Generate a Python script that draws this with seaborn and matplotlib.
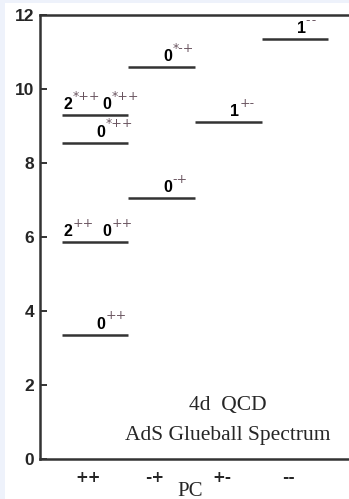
"""
AdS glueball spectrum for 4d QCD, level diagram by PC channel.
"""

import numpy as np
import matplotlib.pyplot as plt
import seaborn as sns
from matplotlib.patches import Rectangle

# PC channels along the x axis
pc_labels = ["++", "-+", "+-", "--"]

# one horizontal line per mass level
level_pc = ["++", "++", "++", "++", "-+", "-+", "+-", "--"]
level_mass = [3.36, 5.86, 8.55, 9.30, 7.05, 10.60, 9.10, 11.35]

# states written above the lines (spin, superscript)
state_pc = ["++", "++", "++", "++", "++", "++", "-+", "-+", "+-", "--"]
state_mass = [3.36, 5.86, 5.86, 8.55, 9.30, 9.30, 7.05, 10.60, 9.10, 11.35]
state_spin = ["0", "2", "0", "0", "2", "0", "0", "0", "1", "1"]
state_sup = ["++", "++", "++", "*++", "*++", "*++", "-+", "*-+", "+-", "--"]

yticks = [0, 2, 4, 6, 8, 10, 12]

sns.set_style("ticks")
plt.rcParams["font.family"] = ["Liberation Sans", "DejaVu Sans"]

fig = plt.figure(figsize=(3.49, 4.99), dpi=100, facecolor="#eef2fb")
fig.patches.append(Rectangle((5 / 349, 0), 1, 1 - 3 / 499, transform=fig.transFigure,
                             facecolor="white", edgecolor="none", zorder=-1))
ax = fig.add_axes([40 / 349, 1 - 459 / 499, 1 - 40 / 349, (459 - 15) / 499])
ax.set_facecolor("white")

ink = "#333333"
pc_x = {pc: i for i, pc in enumerate(pc_labels)}

xs = np.array([pc_x[p] for p in level_pc])
ax.hlines(level_mass, xs - 0.5, xs + 0.5, color=ink, lw=1.8)

# place labels: two states on one line go left/right, single state centred-ish
for pc, m, j, sup in zip(state_pc, state_mass, state_spin, state_sup):
    same = [k for k in range(len(state_mass)) if state_pc[k] == pc and state_mass[k] == m]
    i = pc_x[pc]
    if len(same) == 2:
        x = i - 0.41 if j == "2" else i + 0.17
    else:
        x = i + 0.09
    y = m + 0.28
    ax.text(x, y, j, ha="center", va="center", fontsize=11.5, fontweight="bold",
            color="black")
    # keep double hyphens apart so they read as two marks
    ax.annotate(sup.replace("--", "-\u200a-"), (x, y), xytext=(3.5, 6),
                textcoords="offset points", ha="left", va="center", fontsize=9,
                color="#6a5560", family=["DejaVu Sans"])

ax.set_xlim(-0.825, 3.81)
ax.set_ylim(0, 12)
ax.set_yticks(yticks)
ax.set_yticklabels([str(t) for t in yticks], fontweight="bold", fontsize=12.5)
ax.set_xticks(np.arange(len(pc_labels)) - 0.1)
ax.set_xticklabels(pc_labels, fontweight="bold", fontsize=11, family=["DejaVu Sans"])
ax.tick_params(axis="y", direction="in", length=5, width=1.4, color=ink, pad=4)
ax.tick_params(axis="x", length=0, pad=8)
for side in ["left", "top", "bottom"]:
    ax.spines[side].set_linewidth(1.8)
    ax.spines[side].set_color(ink)
ax.spines["right"].set_visible(False)

serif = ["Liberation Serif", "DejaVu Serif"]
ax.set_xlabel("PC", family=serif, fontsize=15, va="center")
ax.xaxis.set_label_coords(150 / 309, -32 / 444)
ax.text(0.609, 0.121, "4d  QCD", transform=ax.transAxes, family=serif, fontsize=15.5,
        ha="center", va="center")
ax.text(0.609, 0.053, "AdS Glueball Spectrum", transform=ax.transAxes, family=serif,
        fontsize=15.5, ha="center", va="center")

fig.savefig("out.png", dpi=100, facecolor=fig.get_facecolor())
